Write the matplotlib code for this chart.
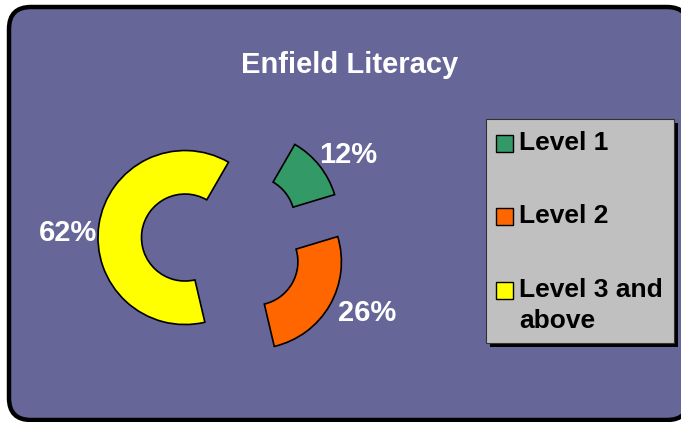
import matplotlib
matplotlib.use('Agg')
import matplotlib.pyplot as plt
from matplotlib.patches import FancyBboxPatch, Rectangle

# data
categories = ['Level 1', 'Level 2', 'Level 3 and\nabove']
shares = [12, 26, 62]
colors = ['#339966', '#ff6600', '#ffff00']
title = 'Enfield Literacy'

plt.rcParams['font.family'] = ['Liberation Sans', 'DejaVu Sans']

W, H = 681, 422
fig = plt.figure(figsize=(W / 100, H / 100), dpi=100)
fig.patch.set_facecolor('white')

# background axes in pixel coordinates
bg = fig.add_axes([0, 0, 1, 1])
bg.set_xlim(0, W)
bg.set_ylim(H, 0)
bg.axis('off')
bg.add_patch(FancyBboxPatch((9, 7), 680, 413,
                            boxstyle='round,pad=0,rounding_size=22',
                            facecolor='#666699', edgecolor='black',
                            linewidth=3.2))
bg.text(350, 65, title, color='white', fontsize=21, fontweight='bold',
        ha='center', va='center')

# legend box with shadow
bg.add_patch(Rectangle((490, 123), 188, 224, facecolor='black',
                       edgecolor='none'))
bg.add_patch(Rectangle((486, 119), 188, 224, facecolor='#c0c0c0',
                       edgecolor='#333333', linewidth=0.8))
baselines = [150, 223, 297]
for lab, col, yb in zip(categories, colors, baselines):
    bg.add_patch(Rectangle((496, yb - 15), 17, 17, facecolor=col,
                           edgecolor='black', linewidth=1.0))
    for i, line in enumerate(lab.split('\n')):
        bg.text(519, yb + i * 31, line, color='black', fontsize=19,
                fontweight='bold', ha='left', va='baseline')

# exploded doughnut
cx, cy, r = 222, 243, 87
half = 170
ax = fig.add_axes([(cx - half) / W, (H - cy - half) / H,
                   2 * half / W, 2 * half / H])
ax.set_facecolor('none')
wedges, texts, autotexts = ax.pie(
    shares, colors=colors, startangle=60, counterclock=False,
    explode=[0.43] * len(shares), autopct='%.0f%%', pctdistance=1.4,
    wedgeprops=dict(width=0.5, edgecolor='black', linewidth=1.2),
    textprops=dict(color='white', fontsize=21, fontweight='bold'))
ax.set_xlim(-half / r, half / r)
ax.set_ylim(-half / r, half / r)
ax.axis('off')

# label placement (pixel positions of the reference labels)
label_px = [(348, 155), (367, 313), (68, 233)]
for t, (px, py) in zip(autotexts, label_px):
    t.set_position(((px - cx) / r, (cy - py) / r))
    t.set_ha('center')
    t.set_va('center')

fig.savefig('out.png', dpi=100, facecolor=fig.get_facecolor())
